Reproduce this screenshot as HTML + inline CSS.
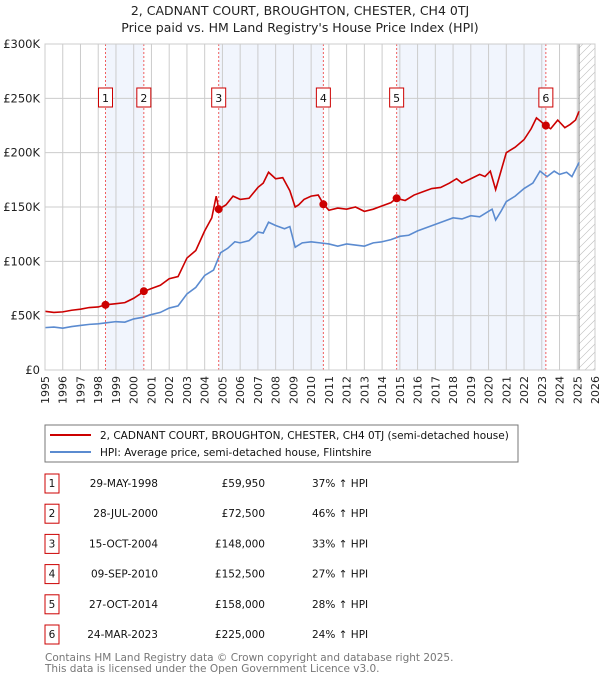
<!DOCTYPE html>
<html><head><meta charset="utf-8"><style>
body{margin:0;width:600px;height:680px;background:#fff;font-family:"DejaVu Sans","Liberation Sans",sans-serif;overflow:hidden}
svg text{font-family:"DejaVu Sans","Liberation Sans",sans-serif}
</style></head><body>
<svg id="c" width="600" height="680" xmlns="http://www.w3.org/2000/svg">
<text x="300" y="15" text-anchor="middle" font-size="12.5" fill="#222">2, CADNANT COURT, BROUGHTON, CHESTER, CH4 0TJ</text>
<text x="300" y="32" text-anchor="middle" font-size="12.5" fill="#222">Price paid vs. HM Land Registry's House Price Index (HPI)</text>
<g id="bands"></g><g id="grid"></g><g id="hatch"></g><g id="lines"></g><g id="marks"></g><g id="axes"></g>
<rect x="45" y="425" width="473" height="37" fill="#fff" stroke="#777"/>
<line x1="50" y1="435" x2="91" y2="435" stroke="#cc0000" stroke-width="2"/>
<text x="100" y="439" font-size="10.5" fill="#111">2, CADNANT COURT, BROUGHTON, CHESTER, CH4 0TJ (semi-detached house)</text>
<line x1="50" y1="452" x2="91" y2="452" stroke="#5b8bd0" stroke-width="2"/>
<text x="100" y="456" font-size="10.5" fill="#111">HPI: Average price, semi-detached house, Flintshire</text>
<g id="table"></g>
<text x="45" y="661" font-size="10.5" fill="#777">Contains HM Land Registry data © Crown copyright and database right 2025.</text>
<text x="45" y="672" font-size="10.5" fill="#777">This data is licensed under the Open Government Licence v3.0.</text>
</svg>
<script>
const yTicks=[0,50000,100000,150000,200000,250000,300000];
const yTickLabels=["£0","£50K","£100K","£150K","£200K","£250K","£300K"];
const years=[1995,1996,1997,1998,1999,2000,2001,2002,2003,2004,2005,2006,2007,2008,2009,2010,2011,2012,2013,2014,2015,2016,2017,2018,2019,2020,2021,2022,2023,2024,2025,2026];
const hpiT=[1995,1995.5,1996,1996.5,1997,1997.5,1998,1998.5,1999,1999.5,2000,2000.5,2001,2001.5,2002,2002.5,2003,2003.5,2004,2004.5,2004.9,2005.3,2005.7,2006,2006.5,2007,2007.3,2007.6,2008,2008.5,2008.8,2009.1,2009.5,2010,2010.5,2011,2011.5,2012,2012.5,2013,2013.5,2014,2014.5,2015,2015.5,2016,2016.5,2017,2017.5,2018,2018.5,2019,2019.5,2020,2020.2,2020.4,2020.7,2021,2021.5,2022,2022.5,2022.9,2023.3,2023.7,2024,2024.4,2024.7,2025.1];
const hpiV=[39000,39500,38500,40000,41000,42000,42500,43500,44500,44000,47000,48500,51000,53000,57000,59000,70000,76000,87000,92000,108000,112000,118000,117000,119000,127000,126000,136000,133000,130000,132000,113000,117000,118000,117000,116000,114000,116000,115000,114000,117000,118000,120000,123000,124000,128000,131000,134000,137000,140000,139000,142000,141000,146000,148000,138000,146000,155000,160000,167000,172000,183000,178000,183000,180000,182000,178000,191000];
const ppT=[1995,1995.5,1996,1996.5,1997,1997.5,1998,1998.4,1999,1999.5,2000,2000.6,2001,2001.5,2002,2002.5,2003,2003.5,2004,2004.4,2004.65,2004.8,2005.2,2005.6,2006,2006.5,2007,2007.3,2007.6,2008,2008.4,2008.8,2009.1,2009.3,2009.6,2010,2010.4,2010.7,2011,2011.5,2012,2012.5,2013,2013.5,2014,2014.5,2014.8,2015.3,2015.8,2016.3,2016.8,2017.3,2017.8,2018.2,2018.5,2019,2019.5,2019.8,2020.1,2020.4,2020.7,2021,2021.5,2022,2022.4,2022.7,2023,2023.2,2023.5,2023.9,2024.3,2024.6,2024.9,2025.1];
const ppV=[54000,53000,53500,55000,56000,57500,58000,60000,61000,62000,66000,72500,75000,78000,84000,86000,103000,110000,128000,140000,160000,148000,152000,160000,157000,158000,168000,172000,182000,176000,177000,165000,150000,152000,157000,160000,161000,152500,147000,149000,148000,150000,146000,148000,151000,154000,158000,156000,161000,164000,167000,168000,172000,176000,172000,176000,180000,178000,183000,166000,183000,200000,205000,212000,222000,232000,228000,225000,222000,230000,223000,226000,230000,238000];
const saleT=[1998.41,2000.57,2004.79,2010.69,2014.82,2023.23];
const saleV=[59950,72500,148000,152500,158000,225000];
const saleLabels=["1","2","3","4","5","6"];
const saleDates=["29-MAY-1998","28-JUL-2000","15-OCT-2004","09-SEP-2010","27-OCT-2014","24-MAR-2023"];
const salePrices=["£59,950","£72,500","£148,000","£152,500","£158,000","£225,000"];
const saleHpi=["37% ↑ HPI","46% ↑ HPI","33% ↑ HPI","27% ↑ HPI","28% ↑ HPI","24% ↑ HPI"];
const NS="http://www.w3.org/2000/svg";
const X0=45,X1=595,Y0=370,Y1=44;
const xs=t=>X0+(t-1995)/(2026-1995)*(X1-X0);
const ys=v=>Y0-v/300000*(Y0-Y1);
function mk(tag,at,parent){const e=document.createElementNS(NS,tag);for(const k in at)e.setAttribute(k,at[k]);document.getElementById(parent).appendChild(e);return e;}
// bands
for(let i=0;i<saleT.length;i+=2){const b=mk('rect',{x:xs(saleT[i]),y:Y1,width:xs(saleT[i+1])-xs(saleT[i]),height:Y0-Y1,fill:'#eef3fc',opacity:0.8},'bands');

}
// grid
years.forEach(y=>{const l=mk('line',{x1:xs(y),x2:xs(y),y1:Y1,y2:Y0,stroke:'#ccc','stroke-width':1},'grid');


const t=mk('text',{x:0,y:0,'font-size':11,fill:'#222','text-anchor':'end',transform:`translate(${xs(y)+4},${Y0+6}) rotate(-90)`},'axes');t.textContent=y;

});
yTicks.forEach((v,i)=>{const l=mk('line',{x1:X0,x2:X1,y1:ys(v),y2:ys(v),stroke:'#ccc','stroke-width':1},'grid');


const t=mk('text',{x:X0-5,y:ys(v)+4,'font-size':11.5,fill:'#222','text-anchor':'end'},'axes');t.textContent=yTickLabels[i];

});
// hatch future
const hx=xs(2025.1);
const hr=mk('rect',{x:hx,y:Y1,width:X1-hx,height:Y0-Y1,fill:'#fff'},'hatch');


for(let y=Y1-20;y<Y0+20;y+=8){mk('line',{x1:hx,y1:y+ (X1-hx),x2:X1,y2:y,stroke:'#bbb','stroke-width':0.6,'clip-path':'url(#hc)'},'hatch');}
const cp=document.createElementNS(NS,'clipPath');cp.id='hc';const cr=document.createElementNS(NS,'rect');cr.setAttribute('x',hx);cr.setAttribute('y',Y1);cr.setAttribute('width',X1-hx);cr.setAttribute('height',Y0-Y1);cp.appendChild(cr);document.getElementById('c').appendChild(cp);
mk('line',{x1:hx,x2:hx,y1:Y1,y2:Y0,stroke:'#888','stroke-width':1},'hatch');
mk('rect',{x:X0,y:Y1,width:X1-X0,height:Y0-Y1,fill:'none',stroke:'#ccc'},'axes');
// lines
const hp=mk('polyline',{points:hpiT.map((t,i)=>xs(t)+','+ys(hpiV[i])).join(' '),fill:'none',stroke:'#5b8bd0','stroke-width':1.6},'lines');


const pp=mk('polyline',{points:ppT.map((t,i)=>xs(t)+','+ys(ppV[i])).join(' '),fill:'none',stroke:'#cc0000','stroke-width':1.6},'lines');


// sale markers
saleT.forEach((t,i)=>{const x=xs(t);
const vl=mk('line',{x1:x,x2:x,y1:Y1,y2:Y0,stroke:'#f06060','stroke-dasharray':'2,2','stroke-width':1},'marks');


const d=mk('circle',{cx:x,cy:ys(saleV[i]),r:4,fill:'#cc0000'},'marks');


const b=mk('rect',{x:x-7,y:88,width:14,height:19,fill:'#fff',stroke:'#cc0000'},'marks');


const tx=mk('text',{x:x,y:102,'font-size':11,'text-anchor':'middle',fill:'#111'},'marks');tx.textContent=saleLabels[i];


// table row
const ry=483+i*30.2;
const tb=mk('rect',{x:45,y:ry-9,width:14,height:19,fill:'#fff',stroke:'#cc0000'},'table');


const tn=mk('text',{x:52,y:ry+4,'font-size':10.5,'text-anchor':'middle',fill:'#111'},'table');tn.textContent=saleLabels[i];


const td=mk('text',{x:158,y:ry+4,'font-size':10.5,'text-anchor':'end',fill:'#111'},'table');td.textContent=saleDates[i];


const tp=mk('text',{x:265,y:ry+4,'font-size':10.5,'text-anchor':'end',fill:'#111'},'table');tp.textContent=salePrices[i];


const th=mk('text',{x:312,y:ry+4,'font-size':10.5,fill:'#111'},'table');th.textContent=saleHpi[i];

});
</script>
</body></html>
